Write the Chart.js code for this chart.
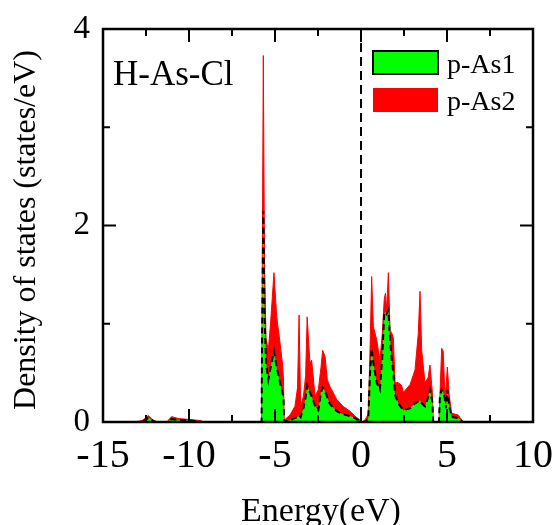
<!DOCTYPE html>
<html>
<head>
<meta charset="utf-8">
<script src="https://cdn.jsdelivr.net/npm/chart.js@4.4.0/dist/chart.umd.min.js"></script>
<style>
  html, body { margin: 0; padding: 0; background: #fff; }
</style>
</head>
<body>
<canvas id="dos" width="554" height="525"></canvas>
<script>
// Projected DOS of the two As sites, energies relative to E_F (eV)
const energy = [
  -15.00, -13.04, -12.67, -12.37, -12.21, -12.08, -11.92, -11.30, -11.01, -10.63,
  -9.94, -9.36, -9.19, -5.78, -5.75, -5.68, -5.61, -5.52, -5.39, -5.26,
  -5.06, -4.90, -4.71, -4.57, -4.51, -4.46, -4.39, -4.13, -3.84, -3.69,
  -3.60, -3.51, -3.35, -3.22, -3.13, -2.97, -2.87, -2.67, -2.48, -2.33,
  -2.23, -2.09, -1.96, -1.80, -1.41, -1.05, -0.64, -0.35, -0.06, 0.06,
  0.23, 0.42, 0.52, 0.62, 0.72, 0.91, 1.10, 1.24, 1.35, 1.42,
  1.49, 1.59, 1.69, 1.78, 1.88, 1.98, 2.17, 2.37, 2.46, 2.85,
  3.14, 3.33, 3.43, 3.53, 3.72, 3.90, 4.01, 4.15, 4.20, 4.53,
  4.59, 4.69, 4.78, 4.88, 4.94, 5.02, 5.13, 5.27, 5.66, 5.85,
  5.95, 10.00
];
const pAs1 = [
  0, 0, 0.01, 0.04, 0.03, 0.01, 0, 0, 0.03, 0.02,
  0.015, 0.005, 0, 0, 0.9, 2.15, 1.1, 0.6, 0.43, 0.55,
  0.72, 0.55, 0.40, 0.30, 0.25, 0, 0.005, 0.02, 0.04, 0.05,
  0.07, 0.05, 0.14, 0.25, 0.37, 0.30, 0.26, 0.16, 0.12, 0.30,
  0.35, 0.31, 0.25, 0.18, 0.11, 0.08, 0.06, 0.04, 0.01, 0,
  0, 0.03, 0.47, 0.75, 0.60, 0.40, 0.33, 0.67, 1.10, 1.12,
  1.10, 1.14, 0.84, 0.64, 0.50, 0.27, 0.19, 0.14, 0.12, 0.14,
  0.19, 0.21, 0.22, 0.19, 0.16, 0.25, 0.33, 0.20, 0, 0,
  0.27, 0.33, 0.30, 0.23, 0.14, 0.33, 0.16, 0.05, 0.04, 0.01,
  0, 0
];
const pAs2 = [
  0, 0, 0.02, 0.065, 0.04, 0.02, 0, 0, 0.055, 0.035,
  0.025, 0.015, 0, 0, 1.2, 3.73, 1.6, 0.85, 0.73, 1.0,
  1.52, 1.07, 0.81, 0.60, 0.45, 0, 0.03, 0.07, 0.16, 0.35,
  1.09, 0.16, 0.26, 0.47, 1.07, 0.60, 0.63, 0.26, 0.33, 0.55,
  0.73, 0.67, 0.43, 0.36, 0.23, 0.16, 0.11, 0.06, 0.02, 0,
  0.02, 0.08, 0.70, 1.48, 0.97, 0.84, 0.63, 0.90, 1.25, 1.31,
  1.14, 1.52, 0.93, 0.91, 0.86, 0.40, 0.40, 0.37, 0.30, 0.38,
  0.53, 0.90, 1.33, 0.73, 0.40, 0.45, 0.58, 0.30, 0, 0,
  0.27, 0.75, 0.72, 0.27, 0.35, 0.56, 0.27, 0.09, 0.07, 0.02,
  0, 0
];

const xTicks = [-15, -10, -5, 0, 5, 10];
const xMinor = [-12.5, -7.5, -2.5, 2.5, 7.5];
const yTicks = [0, 2, 4];
const yMinor = [1, 3];

const SERIF = '"Liberation Serif", "Times New Roman", Times, serif';

const toPoints = ys => energy.map((e, i) => ({ x: e, y: ys[i] }));

// frame, inward ticks on all four sides, Fermi level, legend and labels
const decor = {
  id: 'decor',
  afterDatasetsDraw(chart) {
    const { ctx, chartArea: a, scales } = chart;
    const x0 = scales.x.getPixelForValue(0);
    ctx.save();
    ctx.strokeStyle = '#000';
    ctx.lineWidth = 2;
    ctx.setLineDash([9, 5]);
    ctx.beginPath();
    ctx.moveTo(x0, a.top);
    ctx.lineTo(x0, a.bottom);
    ctx.stroke();
    ctx.restore();
  },
  afterDraw(chart) {
    const { ctx, chartArea: a, scales } = chart;
    const sx = scales.x, sy = scales.y;
    ctx.save();
    ctx.strokeStyle = '#000';
    ctx.lineWidth = 2;
    const tick = (vals, len) => {
      vals.forEach(v => {
        const px = sx.getPixelForValue(v);
        ctx.beginPath();
        ctx.moveTo(px, a.bottom); ctx.lineTo(px, a.bottom - len);
        ctx.moveTo(px, a.top); ctx.lineTo(px, a.top + len);
        ctx.stroke();
      });
    };
    const tickY = (vals, len) => {
      vals.forEach(v => {
        const py = sy.getPixelForValue(v);
        ctx.beginPath();
        ctx.moveTo(a.left, py); ctx.lineTo(a.left + len, py);
        ctx.moveTo(a.right, py); ctx.lineTo(a.right - len, py);
        ctx.stroke();
      });
    };
    tick(xTicks, 13); tick(xMinor, 7);
    tickY(yTicks, 13); tickY(yMinor, 7);

    ctx.lineWidth = 2.5;
    ctx.strokeRect(a.left, a.top, a.right - a.left, a.bottom - a.top);

    // legend
    ctx.lineWidth = 2;
    ctx.fillStyle = '#00ff00';
    ctx.fillRect(373, 51, 65, 23);
    ctx.strokeRect(373, 51, 65, 23);
    ctx.fillStyle = '#ff0000';
    ctx.fillRect(373, 88, 65, 24);

    ctx.fillStyle = '#000';
    ctx.textAlign = 'left';
    ctx.textBaseline = 'alphabetic';
    ctx.font = '28px ' + SERIF;
    ctx.fillText('p-As1', 447, 73);
    ctx.fillText('p-As2', 447, 110);

    ctx.font = '35px ' + SERIF;
    ctx.fillText('H-As-Cl', 113, 85);

    // axis titles
    ctx.textAlign = 'center';
    ctx.font = '34px ' + SERIF;
    ctx.fillText('Energy(eV)', (a.left + a.right) / 2 + 3, 521);
    ctx.save();
    ctx.translate(35, 230);
    ctx.rotate(-Math.PI / 2);
    ctx.font = '32px ' + SERIF;
    ctx.fillText('Density of states (states/eV)', 0, 0);
    ctx.restore();
    ctx.restore();
  }
};

new Chart(document.getElementById('dos'), {
  type: 'line',
  data: {
    datasets: [
      {
        label: 'p-As1',
        data: toPoints(pAs1),
        fill: 'origin',
        backgroundColor: '#00ff00',
        borderColor: '#000',
        borderWidth: 2,
        borderDash: [6, 4],
        pointRadius: 0,
        tension: 0,
        order: 1
      },
      {
        label: 'p-As2',
        data: toPoints(pAs2),
        fill: 'origin',
        backgroundColor: '#ff0000',
        borderColor: '#ff0000',
        borderWidth: 1,
        pointRadius: 0,
        tension: 0,
        order: 2
      }
    ]
  },
  options: {
    responsive: false,
    animation: false,
    devicePixelRatio: 1,
    layout: { padding: { top: 29, right: 21, left: 0, bottom: 0 } },
    plugins: { legend: { display: false }, tooltip: { enabled: false } },
    scales: {
      x: {
        type: 'linear',
        min: -15,
        max: 10,
        afterBuildTicks: s => { s.ticks = xTicks.map(v => ({ value: v })); },
        afterFit: s => { s.height = 103; s.paddingLeft = 0; s.paddingRight = 0; },
        ticks: { color: '#000', font: { family: SERIF, size: 40 }, padding: 10, maxRotation: 0 },
        grid: { display: false, drawTicks: false },
        border: { display: false }
      },
      y: {
        type: 'linear',
        min: 0,
        max: 4,
        afterBuildTicks: s => { s.ticks = yTicks.map(v => ({ value: v })); },
        afterFit: s => { s.width = 103; s.paddingTop = 0; s.paddingBottom = 0; },
        ticks: { color: '#000', font: { family: SERIF, size: 33 }, padding: 13 },
        grid: { display: false, drawTicks: false },
        border: { display: false }
      }
    }
  },
  plugins: [decor]
});
</script>
</body>
</html>
